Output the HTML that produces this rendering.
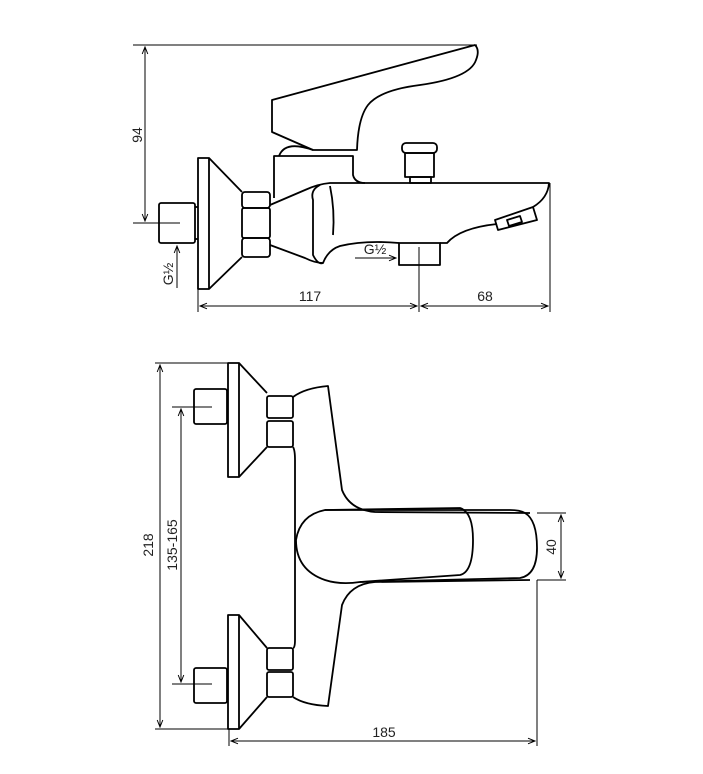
<!DOCTYPE html>
<html><head><meta charset="utf-8"><style>
html,body{margin:0;padding:0;background:#fff;}
svg{display:block;}
text{font-family:"Liberation Sans",sans-serif;font-size:14px;fill:#222;}
</style></head><body>
<svg width="703" height="774" viewBox="0 0 703 774" xmlns="http://www.w3.org/2000/svg">
<defs>
<marker id="a" viewBox="0 0 10 10" refX="10" refY="5" markerWidth="9" markerHeight="7" orient="auto-start-reverse" markerUnits="userSpaceOnUse"><path d="M0,1 L10,5 L0,9" fill="none" stroke="#000" stroke-width="1.4"/></marker>
</defs>
<g fill="none" stroke="#000" stroke-width="1">
<line x1="133" y1="45" x2="477" y2="45"/>
<line x1="145" y1="47" x2="145" y2="221" marker-start="url(#a)" marker-end="url(#a)"/>
<line x1="133" y1="223" x2="180" y2="223"/>
<line x1="177" y1="288" x2="177" y2="246" marker-end="url(#a)"/>
<line x1="198" y1="289" x2="198" y2="312"/>
<line x1="419" y1="250" x2="419" y2="312"/>
<line x1="550" y1="183" x2="550" y2="312"/>
<line x1="200" y1="306" x2="417" y2="306" marker-start="url(#a)" marker-end="url(#a)"/>
<line x1="421" y1="306" x2="548" y2="306" marker-start="url(#a)" marker-end="url(#a)"/>
<line x1="355" y1="258" x2="396" y2="258" marker-end="url(#a)"/>
</g>
<g fill="none" stroke="#000" stroke-width="1.8" stroke-linejoin="round">
<rect x="198" y="158" width="11" height="131"/>
<path d="M209,158 L242,192 M209,289 L242,257"/>
<rect x="242" y="192" width="28" height="16" rx="3"/>
<rect x="242" y="208" width="28" height="30" rx="2"/>
<rect x="242" y="238" width="28" height="19" rx="3"/>
<rect x="159" y="203" width="36" height="40" rx="2"/>
<line x1="195" y1="207" x2="198" y2="207"/><line x1="195" y1="239" x2="198" y2="239"/>
<path d="M274,198 L274,156 L353,156 L353,175 Q355,183 365,183"/>
<path d="M272,100 L475,45 Q480,50 476,60 Q470,78 420,85 Q380,90 368,105 Q358,118 357,150 L313,150 L272,132 Z"/>
<path d="M313,150 Q285,140 279,156"/>
<path d="M270,205 L305,190 Q318,184 330,183 L549,183 Q548,198 533,207"/>
<path d="M320,185 Q310,190 313,200 L313,255 Q318,265 323,263 Q328,250 340,246 Q365,240 399,243"/>
<path d="M330,186 Q335,210 333,235"/>
<path d="M270,245 L305,258 Q315,263 323,263"/>
<path d="M440,243 L447,243 Q460,228 497,224"/>
<polygon points="495,220 533,207 537,220 498,230"/>
<polygon points="507,220 520,216 522,222 509,226"/>
<rect x="399" y="243" width="41" height="22"/>
<rect x="402" y="143" width="35" height="10" rx="4"/>
<rect x="405" y="153" width="29" height="24"/>
<rect x="410" y="177" width="21" height="6"/>
</g>
<line x1="419" y1="247" x2="419" y2="265" stroke="#000" stroke-width="1"/>
<text transform="translate(142,135) rotate(-90)" text-anchor="middle">94</text>
<text transform="translate(173,274) rotate(-90)" text-anchor="middle" font-size="13">G½</text>
<text x="375" y="254" text-anchor="middle" font-size="13">G½</text>
<text x="310" y="301" text-anchor="middle">117</text>
<text x="485" y="301" text-anchor="middle">68</text>

<g fill="none" stroke="#000" stroke-width="1">
<line x1="155" y1="363" x2="229" y2="363"/>
<line x1="155" y1="729" x2="229" y2="729"/>
<line x1="160" y1="365" x2="160" y2="727" marker-start="url(#a)" marker-end="url(#a)"/>
<line x1="172" y1="407" x2="212" y2="407"/>
<line x1="172" y1="684" x2="212" y2="684"/>
<line x1="181" y1="409" x2="181" y2="682" marker-start="url(#a)" marker-end="url(#a)"/>
<line x1="537" y1="513" x2="566" y2="513"/>
<line x1="537" y1="580" x2="566" y2="580"/>
<line x1="561" y1="515" x2="561" y2="578" marker-start="url(#a)" marker-end="url(#a)"/>
<line x1="537" y1="580" x2="537" y2="746"/>
<line x1="229" y1="729" x2="229" y2="746"/>
<line x1="231" y1="741" x2="535" y2="741" marker-start="url(#a)" marker-end="url(#a)"/>
</g>
<g fill="none" stroke="#000" stroke-width="1.8" stroke-linejoin="round">
<rect x="228" y="363" width="11" height="114"/>
<path d="M239,363 L267,393 M239,477 L267,447"/>
<rect x="267" y="396" width="26" height="22" rx="2"/>
<rect x="267" y="421" width="26" height="26" rx="2"/>
<rect x="194" y="389" width="33" height="35" rx="2"/>
<line x1="227" y1="392" x2="228" y2="392"/>
<rect x="228" y="615" width="11" height="114"/>
<path d="M239,615 L267,648 M239,729 L267,697"/>
<rect x="267" y="648" width="26" height="22" rx="2"/>
<rect x="267" y="672" width="26" height="25" rx="2"/>
<rect x="194" y="668" width="33" height="35" rx="2"/>
<path d="M293,397 Q305,388 328,386 L342,490 Q350,510 375,512 L530,513"/>
<path d="M293,447 Q295,450 295,460 L295,640 Q295,648 293,648"/>
<path d="M293,697 Q305,705 328,706 L342,605 Q350,584 375,582 L530,580"/>
<path d="M325,510 Q300,515 296,540 Q296,570 325,580 Q340,585 360,582 L520,578 Q537,575 537,548 Q537,520 525,513 Q520,510 510,510 Z"/>
<path d="M325,510 L460,508 Q473,512 473,540 Q473,572 460,575 L360,582"/>
</g>
<text transform="translate(153,545) rotate(-90)" text-anchor="middle">218</text>
<text transform="translate(177,545) rotate(-90)" text-anchor="middle">135-165</text>
<text transform="translate(556,547) rotate(-90)" text-anchor="middle">40</text>
<text x="384" y="737" text-anchor="middle">185</text>
</svg>
</body></html>
